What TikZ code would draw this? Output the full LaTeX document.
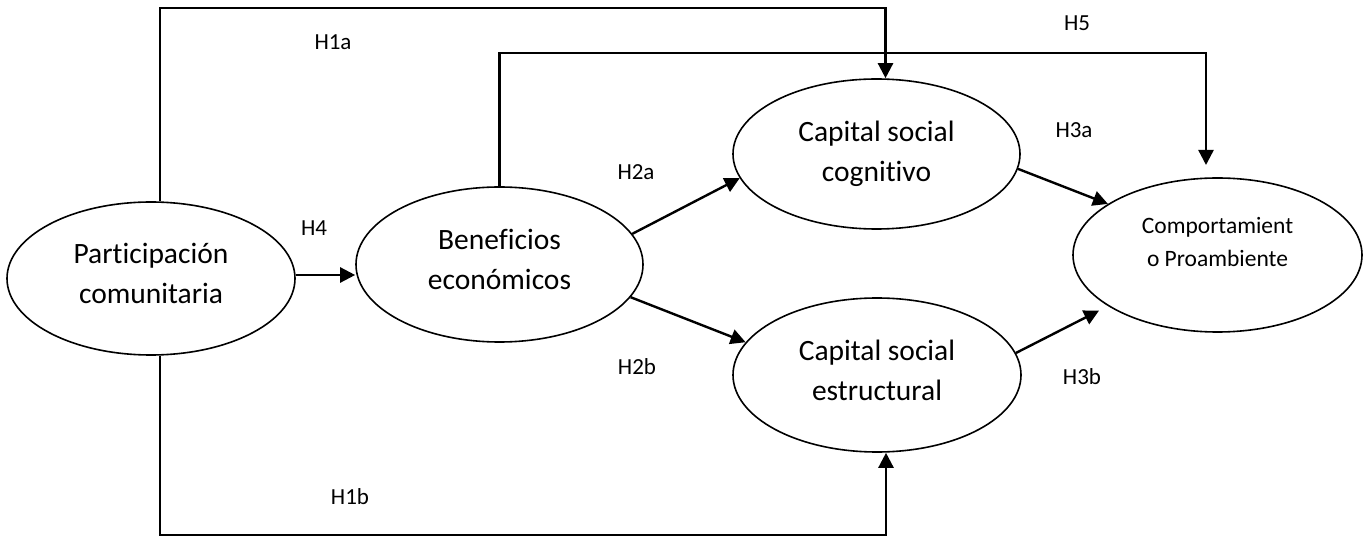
\documentclass[tikz,border=0pt]{standalone}
\usepackage{fontspec}
\setmainfont[Ligatures=NoCommon]{Carlito}
\usetikzlibrary{shapes.geometric,arrows.meta}
\begin{document}
\begin{tikzpicture}[x=1pt,y=-1pt,
  construct/.style={ellipse,draw,line width=1.6pt,inner sep=0pt,align=center,text depth=10pt},
  bigtext/.style={font=\fontsize{29.5}{40}\selectfont},
  smalltext/.style={font=\fontsize{23.5}{33}\selectfont},
  hyp/.style={font=\fontsize{23}{27}\selectfont,inner sep=0pt},
  link/.style={line width=2.4pt,line join=miter},
  arr/.style={link,-{Triangle[length=15pt,width=15pt]}}]
\useasboundingbox (0,0) rectangle (1371,537);

% constructs
\node[construct,bigtext,minimum width=288pt,minimum height=153pt] (pc) at (151,278.5) {Participación\\comunitaria};
\node[construct,bigtext,minimum width=287pt,minimum height=155pt] (be) at (499.5,264.5) {Beneficios\\económicos};
\node[construct,bigtext,minimum width=287pt,minimum height=150pt,text depth=6pt] (csc) at (876.5,154) {Capital social\\cognitivo};
\node[construct,bigtext,minimum width=288pt,minimum height=154pt] (cse) at (877,375) {Capital social\\estructural};
\node[construct,smalltext,minimum width=289pt,minimum height=154pt,text depth=26pt] (cpa) at (1217.5,255) {Comportamient\\o Proambiente};

% routing corners
\coordinate (t1) at (160,8);
\coordinate (b1) at (160,535);
\coordinate (t5) at (1206,53);
\coordinate (h5end) at (1206,165);

% H1a and H1b
\draw[arr] (pc.north -| t1) -- (t1) -| ([xshift=9pt]csc.north);
\draw[arr] (pc.south -| b1) -- (b1) -| ([xshift=9pt]cse.south);
% H5
\draw[arr] (be.north) |- (t5) -- (h5end);
% H4
\draw[arr] (pc.east |- 0,275) -- (be.west |- 0,275);
% H2a, H2b
\draw[arr] (be.13) -- (csc.190);
\draw[arr] (be.-14) -- (cse.166);
% H3a, H3b
\draw[arr] (csc.-6) -- (cpa.155);
\draw[arr,shorten >=10pt] (cse.9) -- (cpa.205);

% hypothesis labels
\node[hyp] (l1a) at (333,42) {H1a};
\node[hyp] (l5) at (1077,23) {H5};
\node[hyp] (l2a) at (636,172) {H2a};
\node[hyp] (l3a) at (1074,130) {H3a};
\node[hyp] (l4) at (314,228) {H4};
\node[hyp] (l2b) at (637,367) {H2b};
\node[hyp] (l3b) at (1082,377) {H3b};
\node[hyp] (l1b) at (350,497) {H1b};
\end{tikzpicture}
\end{document}
